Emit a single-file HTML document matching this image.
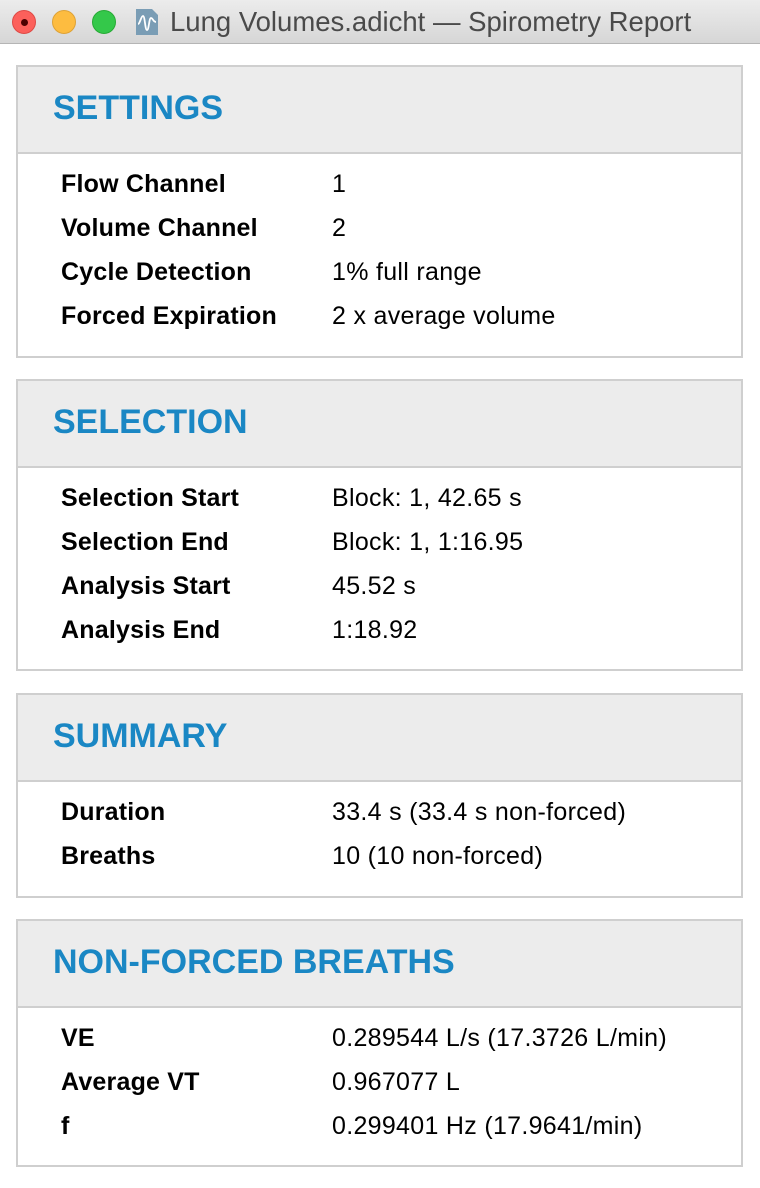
<!DOCTYPE html>
<html><head><meta charset="utf-8"><style>
*{margin:0;padding:0;box-sizing:border-box}
body{width:760px;height:1188px;background:#fff;position:relative;overflow:hidden;font-family:"Liberation Sans",Arial,sans-serif}
.titlebar{position:absolute;left:0;top:0;width:760px;height:44px;background:linear-gradient(#ececec,#d6d6d6);border-bottom:1px solid #b5b5b5}
.dot{position:absolute;top:10px;width:24px;height:24px;border-radius:50%}
.ttl{position:absolute;left:170px;top:6px;font-size:27.5px;color:#4a4a4a;white-space:nowrap}
.panel{position:absolute;left:16px;width:727px;border:2px solid #cfcfcf;background:#fff}
.hdr{height:87px;background:#ececec;border-bottom:2px solid #cfcfcf;position:relative}
.hdr span{position:absolute;left:35px;top:22px;font-size:34px;font-weight:bold;color:#1a87c4}
.row{position:absolute;left:0;font-size:25px;letter-spacing:0.3px;color:#000;line-height:30px;white-space:nowrap}
.row b{position:absolute;left:43px;letter-spacing:0.2px}
.row .v{position:absolute;left:314px}
</style></head><body>
<div class="titlebar">
<div class="dot" style="left:12px;background:#fc605b;border:1px solid #de4a45"><div style="position:absolute;left:8px;top:8px;width:7px;height:7px;border-radius:50%;background:#4d0000"></div></div>
<div class="dot" style="left:52px;background:#fdbc40;border:1px solid #dea236"></div>
<div class="dot" style="left:92px;background:#34c84a;border:1px solid #27aa35"></div>
<svg style="position:absolute;left:135px;top:8px" width="24" height="28"><path d="M1 1h16l6 6v20H1z" fill="#7a9db5"/><path d="M3 16c2 0 3-8 5-8s2 14 4 14 2-12 4-12 2 4 5 4" stroke="#fff" stroke-width="1.8" fill="none"/></svg>
<div class="ttl">Lung Volumes.adicht — Spirometry Report</div>
</div>

<div class="panel" style="top:65px;height:293px">
<div class="hdr"><span>SETTINGS</span></div>
<div class="row" style="top:102px"><b>Flow Channel</b><span class="v">1</span></div>
<div class="row" style="top:146px"><b>Volume Channel</b><span class="v">2</span></div>
<div class="row" style="top:190px"><b>Cycle Detection</b><span class="v">1% full range</span></div>
<div class="row" style="top:234px"><b>Forced Expiration</b><span class="v">2 x average volume</span></div>
</div>

<div class="panel" style="top:379px;height:292px">
<div class="hdr"><span>SELECTION</span></div>
<div class="row" style="top:102px"><b>Selection Start</b><span class="v">Block: 1, 42.65 s</span></div>
<div class="row" style="top:146px"><b>Selection End</b><span class="v">Block: 1, 1:16.95</span></div>
<div class="row" style="top:190px"><b>Analysis Start</b><span class="v">45.52 s</span></div>
<div class="row" style="top:234px"><b>Analysis End</b><span class="v">1:18.92</span></div>
</div>

<div class="panel" style="top:693px;height:205px">
<div class="hdr"><span>SUMMARY</span></div>
<div class="row" style="top:102px"><b>Duration</b><span class="v">33.4 s (33.4 s non-forced)</span></div>
<div class="row" style="top:146px"><b>Breaths</b><span class="v">10 (10 non-forced)</span></div>
</div>

<div class="panel" style="top:919px;height:248px">
<div class="hdr"><span>NON-FORCED BREATHS</span></div>
<div class="row" style="top:102px"><b>VE</b><span class="v">0.289544 L/s (17.3726 L/min)</span></div>
<div class="row" style="top:146px"><b>Average VT</b><span class="v">0.967077 L</span></div>
<div class="row" style="top:190px"><b>f</b><span class="v">0.299401 Hz (17.9641/min)</span></div>
</div>
</body></html>
